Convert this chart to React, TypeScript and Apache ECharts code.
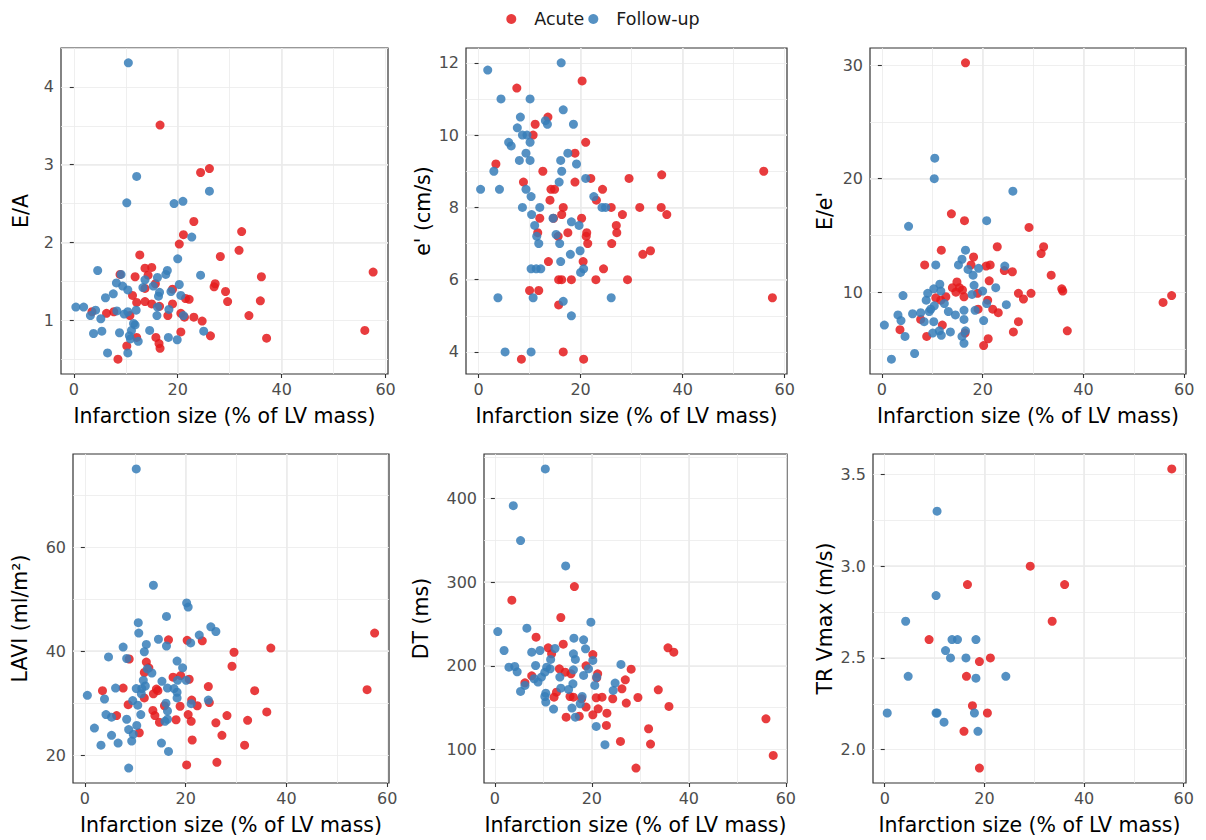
import React, { useEffect, useRef } from "react";
import * as echarts from "echarts";

type Pt = [number, number];

const legendNames = ["Acute", "Follow-up"];
const xTitle = "Infarction size (% of LV mass)";
const xTicks = [0, 20, 40, 60];

// ---- E/A ----
const eaTicks = [1, 2, 3, 4];
const eaAcute: Pt[] = [[16.6,3.51],[24.4,2.90],[26.1,2.95],[23.1,2.27],[32.3,2.14],[21.1,2.10],[20.3,1.98],[31.8,1.90],[28.2,1.82],[12.7,1.84],[13.7,1.67],[15.0,1.68],[8.9,1.59],[11.8,1.56],[14.3,1.58],[57.6,1.62],[36.1,1.56],[27.2,1.47],[27.0,1.43],[29.2,1.37],[29.6,1.24],[35.9,1.25],[19.0,1.40],[15.7,1.47],[13.7,1.41],[11.3,1.32],[12.1,1.23],[13.7,1.24],[15.0,1.21],[16.5,1.18],[19.0,1.21],[21.5,1.28],[22.2,1.27],[33.7,1.06],[56.0,0.87],[37.1,0.77],[3.5,1.11],[6.3,1.09],[7.7,1.11],[10.8,1.06],[18.1,1.06],[20.6,1.09],[21.3,1.04],[23.1,1.04],[24.7,0.99],[20.6,0.85],[26.3,0.80],[15.8,0.78],[16.4,0.70],[16.6,0.64],[12.1,0.78],[10.2,0.67],[8.5,0.50]];
const eaFollow: Pt[] = [[10.5,4.31],[12.1,2.85],[10.2,2.51],[19.3,2.50],[21.0,2.53],[26.1,2.66],[22.7,2.07],[20.0,1.79],[4.6,1.64],[9.1,1.59],[18.0,1.64],[17.7,1.59],[24.4,1.58],[8.2,1.48],[9.4,1.44],[10.4,1.39],[7.6,1.34],[6.1,1.29],[13.7,1.52],[13.3,1.42],[16.1,1.55],[15.3,1.44],[16.5,1.36],[16.3,1.31],[18.7,1.37],[20.3,1.46],[20.6,1.32],[0.4,1.17],[1.9,1.17],[3.2,1.06],[4.2,1.13],[5.2,1.02],[8.3,1.12],[9.7,1.08],[10.4,1.11],[12.0,1.13],[16.1,1.17],[18.3,1.14],[16.0,1.06],[21.1,1.06],[11.5,0.96],[11.8,0.94],[11.1,0.87],[3.8,0.83],[5.4,0.86],[8.8,0.84],[10.7,0.80],[12.4,0.73],[10.9,0.76],[14.6,0.87],[18.2,0.78],[19.9,0.75],[25.0,0.86],[6.5,0.58],[10.4,0.58]];

// ---- e' ----
const ePrimeTicks = [4, 6, 8, 10, 12];
const ePrimeAcute: Pt[] = [[20.3,11.5],[7.5,11.3],[13.6,10.5],[11.1,10.3],[10.7,10.0],[21.0,9.8],[18.9,9.5],[3.4,9.2],[12.6,9.0],[55.9,9.0],[35.9,8.9],[29.5,8.8],[8.8,8.7],[18.9,8.7],[22.0,8.8],[14.2,8.5],[14.9,8.5],[24.3,8.5],[14.0,8.2],[23.1,8.2],[16.6,8.0],[26.0,8.0],[31.6,8.0],[35.8,8.0],[36.9,7.8],[28.2,7.8],[16.3,7.8],[12.0,7.7],[14.7,7.7],[20.2,7.7],[27.0,7.5],[27.1,7.3],[11.6,7.3],[17.5,7.3],[21.2,7.3],[21.1,7.2],[15.6,7.2],[21.4,7.0],[26.1,7.0],[33.7,6.8],[32.2,6.7],[20.5,6.5],[13.7,6.5],[24.5,6.3],[15.7,6.0],[16.3,6.0],[18.2,6.0],[23.0,6.0],[29.2,6.0],[10.0,5.7],[11.8,5.7],[15.7,5.3],[57.6,5.5],[16.6,4.0],[8.4,3.8],[20.6,3.8]];
const ePrimeFollow: Pt[] = [[16.2,12.0],[1.8,11.8],[4.4,11.0],[10.1,11.0],[16.6,10.7],[8.2,10.5],[13.1,10.4],[13.5,10.3],[18.6,10.3],[7.6,10.2],[8.6,10.0],[9.5,10.0],[10.1,9.8],[5.9,9.8],[6.4,9.7],[9.3,9.5],[17.5,9.5],[8.0,9.3],[10.1,9.3],[16.1,9.3],[19.2,9.2],[3.0,9.0],[16.3,9.0],[21.0,8.8],[0.4,8.5],[4.1,8.5],[9.3,8.5],[10.3,8.3],[15.8,8.7],[22.6,8.3],[24.2,8.0],[24.9,8.0],[8.6,8.0],[12.0,8.0],[10.4,7.8],[14.6,7.7],[18.2,7.6],[19.7,7.5],[11.0,7.5],[11.4,7.2],[15.2,7.25],[11.8,7.0],[15.9,7.0],[19.9,6.8],[18.0,6.7],[16.1,6.5],[10.3,6.3],[11.3,6.3],[12.2,6.3],[20.6,6.3],[20.0,6.2],[3.8,5.5],[10.7,5.5],[16.6,5.4],[26.0,5.5],[18.2,5.0],[5.2,4.0],[10.3,4.0]];

// ---- E/e' ----
const eeTicks = [10, 20, 30];
const eeAcute: Pt[] = [[16.6,30.2],[13.8,16.9],[16.4,16.3],[29.2,15.7],[22.9,14.0],[32.1,14.0],[31.6,13.4],[11.8,13.7],[8.5,12.4],[18.2,13.1],[17.7,12.4],[20.7,12.3],[21.5,12.4],[24.3,11.9],[25.9,11.8],[33.6,11.5],[21.3,11.0],[14.9,10.9],[14.0,10.4],[15.4,10.4],[16.0,10.2],[14.7,10.0],[16.3,9.6],[12.7,9.6],[10.7,9.5],[11.7,9.3],[19.0,9.9],[27.1,9.9],[29.6,9.9],[28.1,9.4],[35.7,10.3],[35.9,10.1],[57.5,9.7],[55.8,9.1],[21.0,9.3],[22.0,8.5],[23.1,8.2],[19.1,8.5],[7.7,7.6],[12.0,7.1],[27.1,7.4],[3.6,6.7],[8.9,6.1],[16.5,6.4],[26.1,6.5],[36.8,6.6],[21.1,5.9],[20.2,5.3]];
const eeFollow: Pt[] = [[10.5,21.8],[10.4,20.0],[26.0,18.9],[20.8,16.3],[5.3,15.8],[16.6,13.7],[15.9,12.9],[15.2,12.4],[10.7,12.4],[17.1,12.0],[19.2,12.1],[24.4,12.3],[18.1,11.5],[22.6,10.4],[11.5,10.7],[10.3,10.3],[11.7,10.1],[9.1,9.9],[18.3,10.6],[20.0,10.1],[17.9,9.8],[4.2,9.7],[8.8,9.3],[10.4,8.8],[12.4,9.0],[20.8,9.0],[24.7,8.9],[9.4,8.3],[9.7,8.5],[13.2,8.3],[14.6,8.0],[16.3,8.4],[18.5,8.4],[3.2,8.0],[6.1,8.1],[7.7,8.2],[8.4,7.4],[10.3,7.4],[16.3,7.6],[20.2,7.5],[3.8,7.5],[0.5,7.1],[10.1,6.4],[11.4,6.6],[11.8,6.2],[13.6,6.5],[16.6,6.6],[15.9,6.1],[16.3,5.5],[4.6,6.1],[6.5,4.6],[1.9,4.1]];

// ---- LAVI ----
const laviTicks = [20, 40, 60];
const laviAcute: Pt[] = [[57.5,43.5],[16.6,42.2],[20.3,42.1],[23.3,42.0],[36.9,40.6],[29.6,39.8],[8.8,38.5],[29.2,37.1],[12.2,37.9],[12.7,36.8],[11.8,35.9],[17.5,35.0],[19.0,35.3],[20.7,34.6],[3.5,32.4],[7.6,32.9],[14.2,32.7],[14.5,32.4],[13.6,31.8],[11.8,31.0],[24.5,33.2],[33.7,32.4],[56.0,32.6],[21.2,30.6],[22.3,29.5],[24.7,30.1],[18.9,29.4],[15.8,29.5],[8.6,29.7],[6.3,27.6],[13.5,28.6],[13.9,27.6],[14.8,26.3],[18.1,26.8],[20.5,27.8],[21.1,26.5],[28.2,27.6],[36.1,28.3],[32.3,26.7],[26.0,26.2],[10.8,24.3],[27.2,23.8],[21.3,22.9],[31.7,21.9],[20.2,18.1],[26.2,18.6]];
const laviFollow: Pt[] = [[10.2,75.1],[13.6,52.7],[20.2,49.3],[20.5,48.5],[16.2,46.7],[10.6,45.5],[10.7,43.5],[25.0,44.7],[26.0,43.8],[22.7,43.1],[21.0,41.6],[14.6,42.3],[16.2,41.0],[12.2,41.3],[11.8,39.9],[7.6,40.8],[4.7,38.9],[8.3,38.6],[18.3,38.1],[19.4,36.8],[12.4,36.6],[13.3,35.8],[11.6,34.4],[15.3,34.2],[10.2,32.8],[11.3,32.8],[12.0,33.3],[6.1,32.9],[16.4,32.9],[17.7,32.8],[18.4,34.4],[20.1,34.4],[18.3,32.1],[18.3,31.0],[11.2,31.8],[0.5,31.5],[3.9,30.8],[9.5,30.5],[10.5,29.6],[16.1,30.0],[21.1,29.9],[24.5,30.6],[16.4,28.5],[4.2,27.8],[5.3,27.3],[11.1,27.8],[8.3,26.9],[15.9,26.5],[16.4,26.9],[10.3,25.7],[8.7,24.9],[9.6,24.0],[1.9,25.2],[5.3,23.8],[9.3,22.7],[6.6,22.3],[3.2,21.9],[15.2,22.3],[16.6,20.7],[8.7,17.5]];

// ---- DT ----
const dtTicks = [100, 200, 300, 400];
const dtAcute: Pt[] = [[16.4,294.8],[3.5,278.5],[13.6,257.8],[8.5,234.3],[14.1,225.9],[35.7,221.5],[36.9,216.3],[11.0,221.5],[20.2,213.5],[18.8,200.0],[28.1,196.0],[26.9,183.3],[7.6,188.0],[13.3,196.4],[14.5,192.4],[15.7,190.4],[21.2,190.4],[21.0,185.6],[11.7,214.3],[6.2,179.7],[12.7,168.5],[12.2,162.5],[15.5,163.3],[16.2,162.5],[17.9,160.6],[20.9,161.8],[22.1,162.5],[24.3,160.6],[26.2,172.5],[29.5,162.1],[33.7,171.3],[27.1,155.4],[35.9,151.4],[18.8,150.6],[21.3,148.6],[20.2,141.4],[23.1,143.4],[14.7,138.6],[17.4,139.8],[23.0,128.7],[31.7,124.7],[25.9,109.6],[32.1,106.4],[55.9,136.6],[57.4,92.8],[29.1,77.7]];
const dtFollow: Pt[] = [[10.4,435.5],[3.8,391.6],[5.3,349.8],[14.6,319.5],[19.8,252.2],[0.6,241.0],[6.6,245.0],[1.9,218.3],[7.6,216.3],[9.3,218.3],[12.4,220.7],[16.3,233.1],[18.3,231.1],[18.7,220.3],[16.2,214.3],[16.6,207.6],[20.2,206.4],[11.5,207.6],[2.9,198.4],[4.1,199.2],[4.6,192.8],[8.4,200.4],[10.7,198.4],[11.4,196.4],[10.3,192.4],[9.6,186.5],[8.9,180.5],[8.1,184.5],[13.4,186.5],[16.2,195.2],[19.3,196.4],[21.0,186.5],[18.3,188.5],[26.0,201.6],[16.1,178.5],[20.6,176.5],[24.8,179.3],[24.4,170.5],[6.2,176.5],[5.3,169.3],[10.5,167.3],[13.6,173.3],[15.2,171.7],[10.3,163.3],[10.5,156.6],[12.1,148.2],[15.9,149.4],[18.0,163.3],[17.6,154.6],[16.6,138.6],[20.9,127.5],[22.7,105.6]];

// ---- TR Vmax ----
const trTicks = [2.0, 2.5, 3.0, 3.5];
const trAcute: Pt[] = [[57.6,3.53],[29.2,3.00],[16.6,2.90],[36.1,2.90],[33.6,2.70],[8.9,2.60],[21.2,2.50],[19.0,2.48],[16.4,2.40],[17.6,2.24],[20.6,2.20],[15.9,2.10],[19.0,1.90]];
const trFollow: Pt[] = [[10.5,3.30],[10.3,2.84],[4.2,2.70],[13.5,2.60],[14.6,2.60],[18.3,2.60],[12.2,2.54],[13.2,2.50],[16.3,2.50],[4.7,2.40],[18.3,2.39],[24.3,2.40],[0.5,2.20],[10.3,2.20],[10.5,2.20],[18.0,2.20],[11.9,2.15],[18.7,2.10]];

const RED = "#E41A1C";
const BLUE = "#377EB8";
const FONT = "'DejaVu Sans', Verdana, sans-serif";

interface Panel {
  title: string;
  acute: Pt[];
  follow: Pt[];
  ticks: number[];
  dec: number;
  left: number;
  right: number;
  top: number;
  bottom: number;
  yNameGap: number;
}

const ROW1 = { top: 48, bottom: 374 };
const ROW2 = { top: 454, bottom: 783 };

const panels: Panel[] = [
  { title: "E/A", acute: eaAcute, follow: eaFollow, ticks: eaTicks, dec: 0, left: 61, right: 388, ...ROW1, yNameGap: 30 },
  { title: "e' (cm/s)", acute: ePrimeAcute, follow: ePrimeFollow, ticks: ePrimeTicks, dec: 0, left: 466, right: 787, ...ROW1, yNameGap: 33 },
  { title: "E/e'", acute: eeAcute, follow: eeFollow, ticks: eeTicks, dec: 0, left: 870, right: 1186, ...ROW1, yNameGap: 35 },
  { title: "LAVI (ml/m²)", acute: laviAcute, follow: laviFollow, ticks: laviTicks, dec: 0, left: 73, right: 389, ...ROW2, yNameGap: 43 },
  { title: "DT (ms)", acute: dtAcute, follow: dtFollow, ticks: dtTicks, dec: 0, left: 484, right: 787, ...ROW2, yNameGap: 53 },
  { title: "TR Vmax (m/s)", acute: trAcute, follow: trFollow, ticks: trTicks, dec: 1, left: 873, right: 1186, ...ROW2, yNameGap: 38 },
];

function expand(a: Pt[], b: Pt[], k: number): [number, number] {
  const v = [...a, ...b].map((p) => p[k]);
  const lo = Math.min(...v);
  const hi = Math.max(...v);
  const pad = (hi - lo) * 0.05;
  return [lo - pad, hi + pad];
}

function buildOption() {
  const grid: any[] = [];
  const xAxis: any[] = [];
  const yAxis: any[] = [];
  const series: any[] = [];
  const splitMinor = { show: true, showMinLine: false, showMaxLine: false, lineStyle: { color: "#EBEBEB", width: 0.8 } };
  const splitMajor = { show: true, showMinLine: false, showMaxLine: false, lineStyle: { color: "#EBEBEB", width: 1.6 } };
  const hidden = { axisLine: { show: false }, axisTick: { show: false }, axisLabel: { show: false } };
  const tickLabel = { color: "#4D4D4D", fontSize: 16, fontFamily: FONT };
  const nameStyle = { fontSize: 20.5, color: "#000000", fontFamily: FONT };

  panels.forEach((p, i) => {
    grid.push({
      left: p.left,
      top: p.top,
      width: p.right - p.left,
      height: p.bottom - p.top,
      show: true,
      borderColor: "#333333",
      borderWidth: 1.2,
      backgroundColor: "transparent",
      containLabel: false,
      outerBoundsMode: "none",
    });
    const [xMin, xMax] = expand(p.acute, p.follow, 0);
    const [yMin, yMax] = expand(p.acute, p.follow, 1);
    const xStep = xTicks[1] - xTicks[0];
    const yStep = p.ticks[1] - p.ticks[0];

    xAxis.push({
      type: "value", gridIndex: i, position: "bottom", min: xMin, max: xMax,
      minInterval: xStep / 2, maxInterval: xStep / 2, splitNumber: 6,
      ...hidden, splitLine: splitMinor,
    });
    xAxis.push({
      type: "value", gridIndex: i, position: "bottom", min: xMin, max: xMax,
      minInterval: xStep, maxInterval: xStep, splitNumber: 3,
      axisLine: { show: false },
      axisTick: { show: true, customValues: xTicks, length: 4, lineStyle: { color: "#333333", width: 1.1 } },
      axisLabel: { customValues: xTicks, margin: 7, ...tickLabel },
      splitLine: splitMajor,
      name: xTitle, nameLocation: "middle", nameGap: 31,
      nameTextStyle: nameStyle,
    });
    yAxis.push({
      type: "value", gridIndex: i, position: "left", min: yMin, max: yMax,
      minInterval: yStep / 2, maxInterval: yStep / 2, splitNumber: 10,
      ...hidden, splitLine: splitMinor,
    });
    yAxis.push({
      type: "value", gridIndex: i, position: "left", min: yMin, max: yMax,
      minInterval: yStep, maxInterval: yStep, splitNumber: 5,
      axisLine: { show: false },
      axisTick: { show: true, customValues: p.ticks, length: 4, lineStyle: { color: "#333333", width: 1.1 } },
      axisLabel: {
        customValues: p.ticks, margin: 7, ...tickLabel,
        formatter: (v: number) => v.toFixed(p.dec),
      },
      splitLine: splitMajor,
      name: p.title, nameLocation: "middle", nameGap: p.yNameGap,
      nameTextStyle: nameStyle,
    });
    series.push({
      type: "scatter", name: legendNames[0], xAxisIndex: 2 * i + 1, yAxisIndex: 2 * i + 1,
      data: p.acute, symbolSize: 9, itemStyle: { color: RED, opacity: 0.85 },
    });
    series.push({
      type: "scatter", name: legendNames[1], xAxisIndex: 2 * i + 1, yAxisIndex: 2 * i + 1,
      data: p.follow, symbolSize: 9, itemStyle: { color: BLUE, opacity: 0.85 },
    });
  });

  return {
    animation: false,
    backgroundColor: "#ffffff",
    textStyle: { fontFamily: FONT },
    legend: {
      data: legendNames,
      top: 5,
      left: "center",
      icon: "circle",
      itemWidth: 36,
      itemHeight: 10,
      itemGap: 4,
      textStyle: { fontSize: 17.5, color: "#1A1A1A", fontFamily: FONT },
    },
    grid,
    xAxis,
    yAxis,
    series,
  };
}

export default function App() {
  const ref = useRef<HTMLDivElement>(null);
  useEffect(() => {
    if (!ref.current) return;
    const chart = echarts.init(ref.current, undefined, { renderer: "svg" });
    chart.setOption(buildOption() as any);
    return () => chart.dispose();
  }, []);
  return <div ref={ref} style={{ position: "absolute", left: 0, top: 0, width: 1206, height: 840 }} />;
}
